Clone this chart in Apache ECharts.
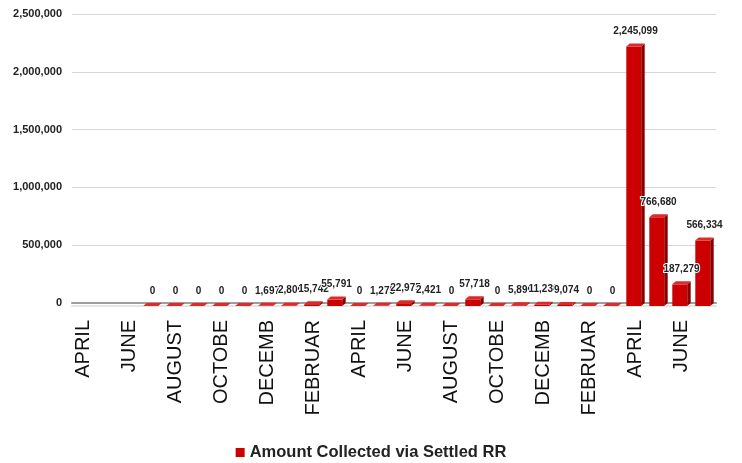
<!DOCTYPE html>
<html>
<head>
<meta charset="utf-8">
<script src="https://cdn.jsdelivr.net/npm/echarts@6/dist/echarts.min.js"></script>
<style>
html,body{margin:0;padding:0;background:#fff;}
#chart{width:742px;height:463px;}
</style>
</head>
<body>
<div id="chart"></div>
<script>
var categories = ['APRIL','MAY','JUNE','JULY','AUGUST','SEPTEMBER','OCTOBER','NOVEMBER','DECEMBER','JANUARY','FEBRUARY','MARCH',
  'APRIL','MAY','JUNE','JULY','AUGUST','SEPTEMBER','OCTOBER','NOVEMBER','DECEMBER','JANUARY','FEBRUARY','MARCH',
  'APRIL','MAY','JUNE','JULY'];
var amountCollected = [null,null,null,0,0,0,0,0,1697,2800,15742,55791,
  0,1275,22975,2421,0,57718,0,5890,11236,9074,0,0,
  2245099,766680,187279,566334];
var seriesName = 'Amount Collected via Settled RR';
var yMin = 0, yMax = 2500000, yInterval = 500000;

function fmt(v){ return Number(v).toLocaleString('en-US'); }

var chart = echarts.init(document.getElementById('chart'), null, {renderer:'canvas'});

function renderBar(params, api) {
  var v = api.value(1);
  if (v === null || v === undefined || isNaN(v)) return;
  var idx = api.value(0);
  var base = api.coord([idx, 0]);
  var top = api.coord([idx, v]);
  var cw = api.size([1, 0])[0];
  var w = cw * 0.65, d = cw * 0.15, dy = 3;
  var left = top[0] - (w + d) / 2;
  var yTop = top[1] + dy, yBot = base[1] + dy;
  var right = left + w;
  var children = [];
  if (yBot - yTop > 0.01) {
    children.push({type:'rect', shape:{x:left, y:yTop, width:w, height:yBot - yTop}, style:{fill:'#cc0000'}});
    children.push({type:'polygon', shape:{points:[[right,yTop],[right+d,yTop-dy],[right+d,yBot-dy],[right,yBot]]}, style:{fill:'#8a0000'}});
  }
  children.push({type:'polygon', shape:{points:[[left,yTop],[right,yTop],[right+d,yTop-dy],[left+d,yTop-dy]]}, style:{fill:'#dd2a2a'}});
  children.push({type:'text', z2:10, style:{text:fmt(v), x:top[0], y:top[1]-12, align:'center', verticalAlign:'middle',
    font:'bold 10px "Liberation Sans", Arial, sans-serif', fill:'#222', stroke:'#fff', lineWidth:2}});
  return {type:'group', children:children};
}

var data = amountCollected.map(function(v, i){ return [i, v]; });

chart.setOption({
  animation:false,
  backgroundColor:'#fff',
  grid:{left:72, right:26, top:14, bottom:160},
  legend:{
    data:[seriesName], top:439, left:'center', icon:'rect', itemWidth:9, itemHeight:9, itemGap:6,
    textStyle:{fontFamily:'"Liberation Sans", Arial, sans-serif', fontWeight:'bold', fontSize:16.5, color:'#222'}
  },
  xAxis:{
    type:'category', data:categories, boundaryGap:true,
    axisTick:{show:false},
    axisLine:{show:true, lineStyle:{color:'#9e9e9e', width:2, shadowColor:'#e6e6e6', shadowOffsetY:3, shadowBlur:0}},
    axisLabel:{interval:1, rotate:90, margin:17, fontSize:20, color:'#111',
      fontFamily:'"Liberation Sans", Arial, sans-serif', overflow:'truncate', width:97, ellipsis:''}
  },
  yAxis:{
    type:'value', min:yMin, max:yMax, interval:yInterval,
    axisLine:{show:false}, axisTick:{show:false},
    splitLine:{lineStyle:{color:'#d6d6d6', width:1}},
    axisLabel:{margin:10, fontSize:11, fontWeight:'bold', color:'#222',
      fontFamily:'"Liberation Sans", Arial, sans-serif', formatter:function(v){ return fmt(v); }}
  },
  series:[{
    name:seriesName, type:'custom', renderItem:renderBar, data:data,
    itemStyle:{color:'#cc0000'}, encode:{x:0, y:1}, clip:false
  }]
});
</script>
</body>
</html>
